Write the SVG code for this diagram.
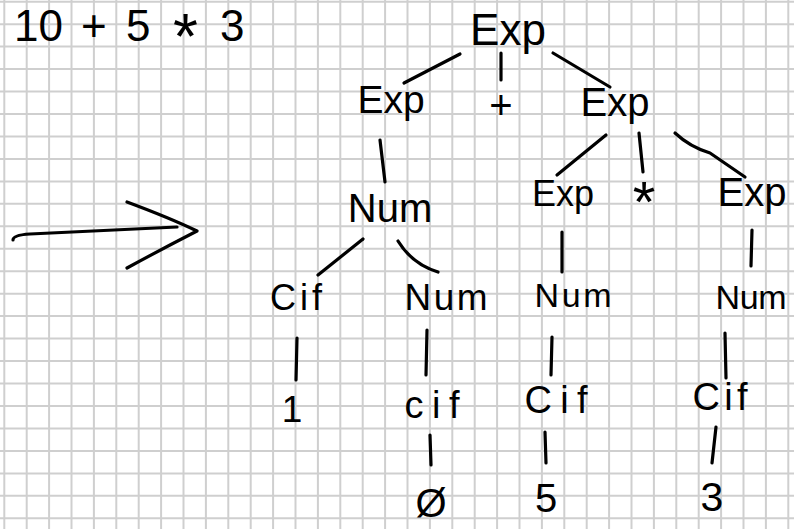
<svg xmlns="http://www.w3.org/2000/svg" width="794" height="529" viewBox="0 0 794 529">
<style>
.grid{stroke:#cfcfcf;stroke-width:2;fill:none}
.ink{stroke:#000;stroke-width:3.2;fill:none;stroke-linecap:round;stroke-linejoin:round}
text{font-family:"Liberation Sans","DejaVu Sans",sans-serif;fill:#000;text-anchor:middle}
</style>
<rect x="0" y="0" width="794" height="529" fill="#fff"/>
<g id="grid">
<path class="grid" d="M4.3,0V529M26.7,0V529M49.1,0V529M71.5,0V529M93.9,0V529M116.3,0V529M138.7,0V529M161.1,0V529M183.5,0V529M205.9,0V529M228.3,0V529M250.7,0V529M273.1,0V529M295.5,0V529M317.9,0V529M340.3,0V529M362.7,0V529M385.1,0V529M407.5,0V529M429.9,0V529M452.3,0V529M474.7,0V529M497.1,0V529M519.5,0V529M541.9,0V529M564.3,0V529M586.7,0V529M609.1,0V529M631.5,0V529M653.9,0V529M676.3,0V529M698.7,0V529M721.1,0V529M743.5,0V529M765.9,0V529M788.3,0V529"/>
<path class="grid" d="M0,1.7H794M0,24.2H794M0,46.6H794M0,69.1H794M0,91.5H794M0,114H794M0,136.5H794M0,158.9H794M0,181.4H794M0,203.8H794M0,226.3H794M0,248.8H794M0,271.2H794M0,293.7H794M0,316.1H794M0,338.6H794M0,361.1H794M0,383.5H794M0,406H794M0,428.4H794M0,450.9H794M0,473.4H794M0,495.8H794M0,518.3H794"/>
</g>
<g id="input">
<text font-size="44" style="text-anchor:start"><tspan x="14" y="41">10</tspan><tspan x="81" y="41">+</tspan><tspan x="126" y="41">5</tspan><tspan x="173" y="59" font-size="64">*</tspan><tspan x="220" y="41">3</tspan></text>
</g>
<g id="arrow">
<path class="ink" stroke-width="3.6" d="M13,240 Q13,235 30,234 L177,227"/>
<path class="ink" stroke-width="3.6" d="M127,202 Q170,218 197,231 Q160,250 127,268"/>
</g>
<g id="connectors">
<path class="ink" d="M460,54L404,83"/>
<path class="ink" d="M501,53L501,80"/>
<path class="ink" d="M553,53L610,87"/>
<path class="ink" d="M380,140L385,182"/>
<path class="ink" d="M606,135L557,175"/>
<path class="ink" d="M639,133L643,172"/>
<path class="ink" d="M675,133Q690,147 710,153L745,177"/>
<path class="ink" d="M363,239L318,275"/>
<path class="ink" d="M398,241Q412,264 438,272"/>
<path class="ink" d="M562,232L562,272"/>
<path class="ink" d="M752,230L751,266"/>
<path class="ink" d="M297,338L296,380"/>
<path class="ink" d="M427,330L426,375"/>
<path class="ink" d="M552,337L551,375"/>
<path class="ink" d="M725,333L726,378"/>
<path class="ink" d="M430,435L431,465"/>
<path class="ink" d="M545,432L546,463"/>
<path class="ink" d="M716,427L712,463"/>
</g>
<g id="n-exp-root"><text x="508" y="45" font-size="44">Exp</text></g>
<g id="n-exp-l"><text x="391" y="113" font-size="39">Exp</text></g>
<g id="n-plus"><text x="501" y="119" font-size="40">+</text></g>
<g id="n-exp-r"><text x="615" y="116" font-size="40">Exp</text></g>
<g id="n-num-l"><text x="390" y="222" font-size="40">Num</text></g>
<g id="n-exp-rl"><text x="563" y="206" font-size="36">Exp</text></g>
<g id="n-times"><text x="644" y="222" font-size="58">*</text></g>
<g id="n-exp-rr"><text x="752" y="206" font-size="40">Exp</text></g>
<g id="n-cif-1"><text x="296" y="310" font-size="36" textLength="52" lengthAdjust="spacing">Cif</text></g>
<g id="n-num-m"><text x="446" y="310" font-size="37" textLength="83" lengthAdjust="spacing">Num</text></g>
<g id="n-num-5"><text x="573" y="307" font-size="34" textLength="77" lengthAdjust="spacing">Num</text></g>
<g id="n-num-3"><text x="751" y="309" font-size="34" textLength="71" lengthAdjust="spacing">Num</text></g>
<g id="n-one"><text x="292" y="422" font-size="37">1</text></g>
<g id="n-cif-0"><text x="432" y="418" font-size="38" textLength="55" lengthAdjust="spacing">cif</text></g>
<g id="n-cif-5"><text x="556" y="413" font-size="38" textLength="63" lengthAdjust="spacing">Cif</text></g>
<g id="n-cif-3"><text x="720" y="410" font-size="38" textLength="55" lengthAdjust="spacing">Cif</text></g>
<g id="n-zero"><text x="431" y="517" font-size="40">Ø</text></g>
<g id="n-five"><text x="546" y="512" font-size="40">5</text></g>
<g id="n-three"><text x="712" y="511" font-size="41">3</text></g>
</svg>
